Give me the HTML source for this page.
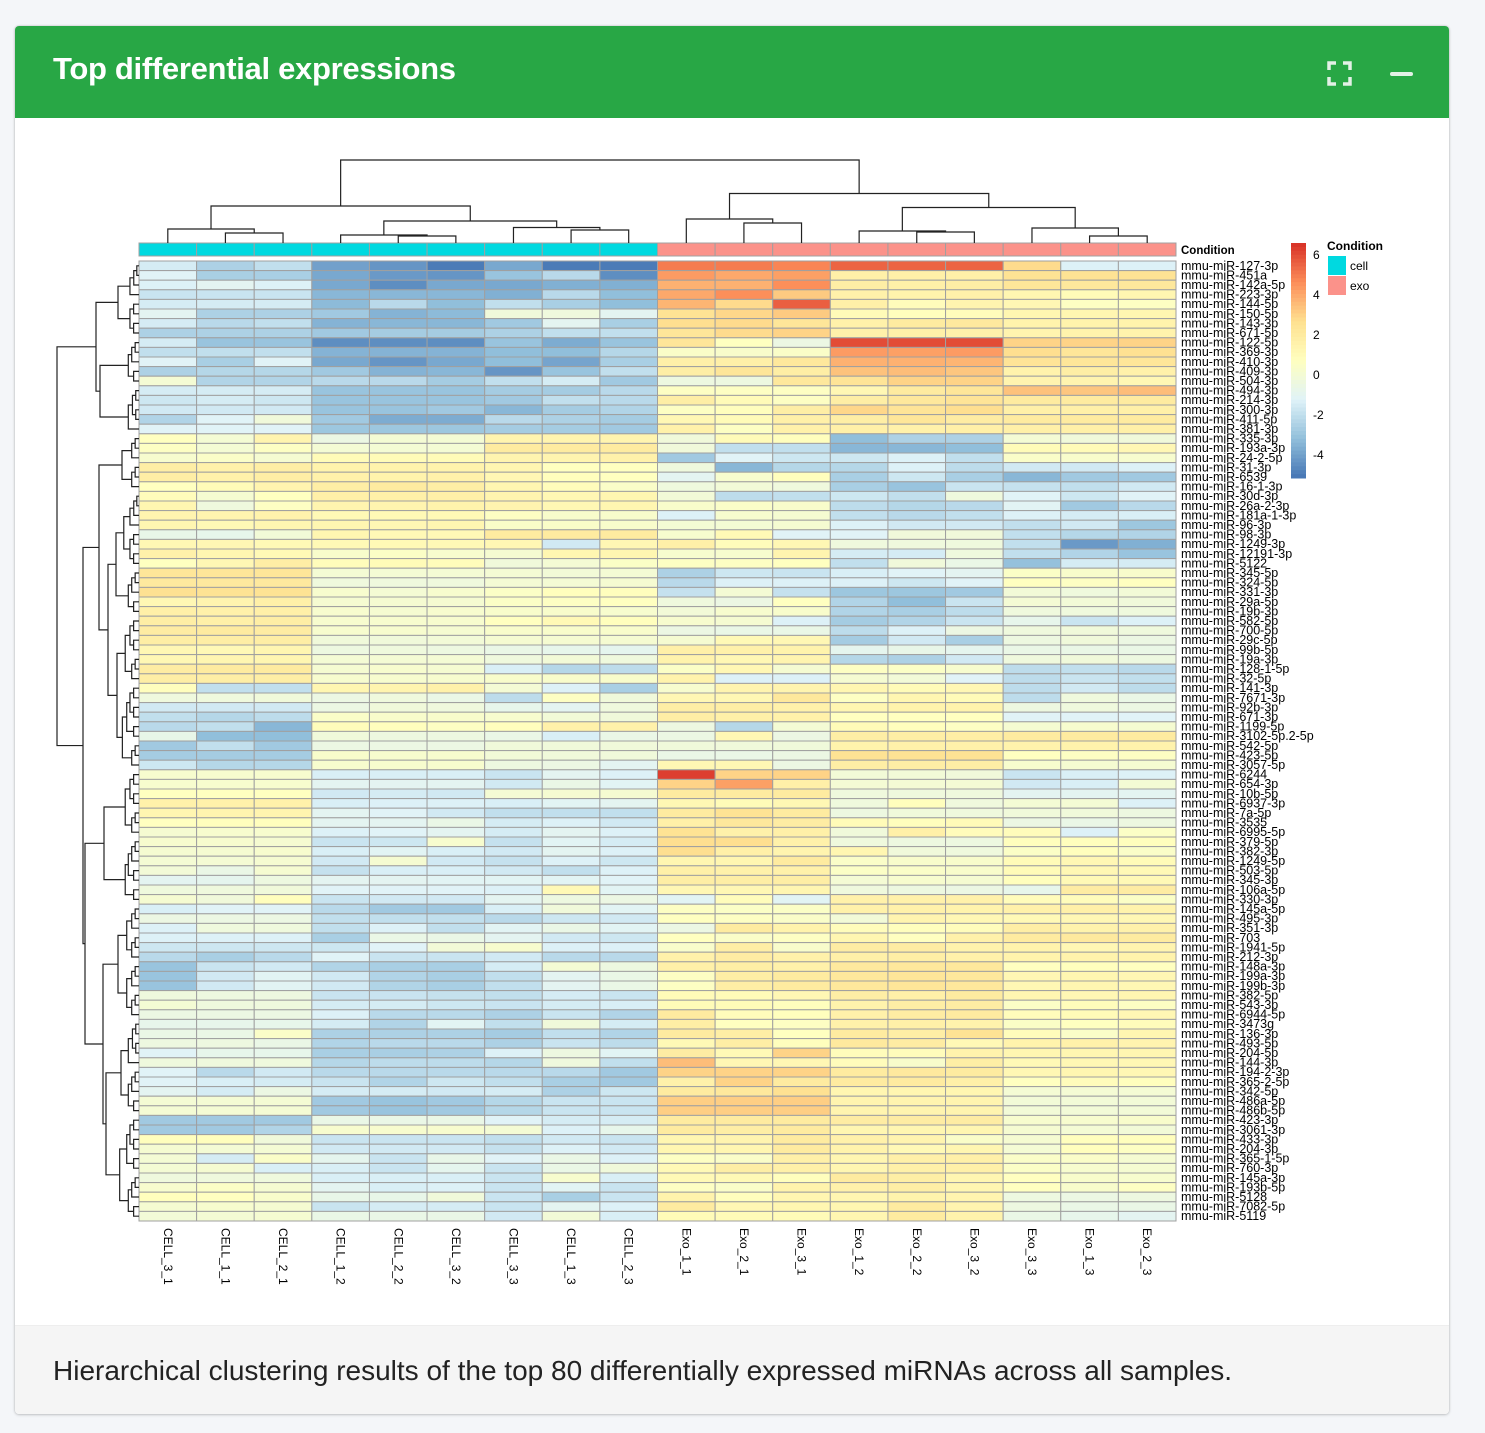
<!DOCTYPE html>
<html><head><meta charset="utf-8"><style>
html,body{margin:0;padding:0;background:#f4f6f9;width:1485px;height:1433px;overflow:hidden;font-family:"Liberation Sans",sans-serif;}
#card{position:absolute;left:15px;top:26px;width:1434px;height:1388px;background:#fff;border-radius:4px;box-shadow:0 0 2px rgba(0,0,0,.2),0 1px 3px rgba(0,0,0,.15);overflow:hidden;}
#hdr{position:absolute;left:0;top:0;width:1434px;height:92px;background:#28a745;}
#title{position:absolute;left:38px;top:25px;color:#fff;font-weight:bold;font-size:31px;letter-spacing:-0.3px;}
#foot{position:absolute;left:0;top:1299px;width:1434px;height:89px;background:#f5f5f5;border-top:1px solid #eee;}
#caption{position:absolute;left:38px;top:29px;font-size:28px;color:#222;}
svg{position:absolute;left:0;top:0;}
</style></head><body>
<div id="card">
<div id="hdr">
<div id="title">Top differential expressions</div>
</div>
<div id="foot">
<div id="caption">Hierarchical clustering results of the top 80 differentially expressed miRNAs across all samples.</div>
</div>
</div>
<svg id="chart" width="1485" height="1433" xmlns="http://www.w3.org/2000/svg">
<g fill="none" stroke="#e3f1e6" stroke-width="3.5">
<path d="M1329 70 V63 H1336 M1343 63 H1350 V70 M1350 77 V84 H1343 M1336 84 H1329 V77"/>
</g>
<rect x="1390" y="72" width="23" height="4" rx="2" fill="#e3f1e6"/>
</svg>
<script>
const colLabels=["CELL_3_1","CELL_1_1","CELL_2_1","CELL_1_2","CELL_2_2","CELL_3_2","CELL_3_3","CELL_1_3","CELL_2_3","Exo_1_1","Exo_2_1","Exo_3_1","Exo_1_2","Exo_2_2","Exo_3_2","Exo_3_3","Exo_1_3","Exo_2_3"];
const conditions=["cell","cell","cell","cell","cell","cell","cell","cell","cell","exo","exo","exo","exo","exo","exo","exo","exo","exo"];
const rowLabels=["127-3p","451a","142a-5p","223-3p","144-5p","150-5p","143-3p","671-5p","122-5p","369-3p","410-3p","409-3p","504-3p","494-3p","214-3p","300-3p","411-5p","381-3p","335-3p","193a-3p","24-2-5p","31-3p","6539","16-1-3p","30d-3p","26a-2-3p","181a-1-3p","96-3p","98-3p","1249-3p","12191-3p","5122","345-5p","324-5p","331-3p","29a-5p","19b-3p","582-5p","700-5p","29c-5p","99b-5p","19a-3p","128-1-5p","32-5p","141-3p","7671-3p","92b-3p","671-3p","1199-5p","3102-5p.2-5p","542-5p","423-5p","3057-5p","6244","654-3p","10b-5p","6937-3p","7a-5p","3535","6995-5p","379-5p","382-3p","1249-5p","503-5p","345-3p","106a-5p","330-3p","145a-5p","495-3p","351-3p","703","1941-5p","212-3p","148a-3p","199a-3p","199b-3p","382-5p","543-3p","6944-5p","3473g","136-3p","493-5p","204-5p","144-3p","194-2-3p","365-2-5p","342-5p","486a-5p","486b-5p","423-3p","3061-3p","433-3p","204-3p","365-1-5p","760-3p","145a-3p","193b-5p","5128","7082-5p","5119"].map(s=>"mmu-miR-"+s);
const values=[
[-1.5,-2.5,-2,-4,-4.3,-5,-3.8,-5,-5,5,5,4.8,5.5,5.5,5.5,2.8,-1.3,-1.3],
[-1.2,-2.6,-2.6,-3.8,-4.2,-4.3,-3,-2.2,-4.5,4.3,4,4.2,1.7,1.7,1.7,2.5,2.5,2.5],
[-1.3,-1,-1.3,-3.8,-4.5,-3.8,-3.8,-3.6,-3.6,3.8,3.8,4.6,1.8,1.7,1.8,2.3,2.2,2.2],
[-1.8,-1.8,-1.8,-3.4,-3.4,-3.4,-3.6,-2.2,-3.2,4,4.6,3.2,1.6,1.5,1.6,1.3,1,1.3],
[-1.5,-1.5,-1.5,-3.3,-2.2,-3.2,-2,-2.6,-3.2,3.7,2.8,5.6,1.7,0.9,1.4,1.2,0.6,0.6],
[-1,-2.5,-2.5,-2.8,-3.5,-3.3,-0.2,-0.3,-1,2.5,2.9,3.2,1,0.8,0.9,1.3,1.3,1.3],
[-1.5,-2.2,-2,-3.5,-3.4,-3.4,-2.8,-1,-2.6,2.7,2.8,2.3,1.6,2,2.1,1.5,1.5,1.5],
[-2.5,-2.5,-2.5,-2.8,-2.7,-2.7,-2.5,-2,-2,2.3,2.8,3,1.6,1.7,1.6,1.4,1.5,1.5],
[-1.5,-3,-3,-4.5,-4.5,-4.5,-3,-3.7,-3,2.3,0.7,-0.5,6,6,6,3,3,3],
[-2,-2,-2,-3.5,-3.5,-3.5,-3.2,-3.2,-2.3,0.4,0.3,0.4,4.3,4.2,4.3,2.7,2.3,2.6],
[-1.2,-2.6,-1.2,-3.8,-4.3,-3.8,-3.2,-3.9,-2.6,1.7,1.7,2.2,3.8,3.8,3.7,2.4,2.3,2.3],
[-2.5,-2.3,-2.3,-2.8,-3.5,-3.4,-4.3,-3,-2,1.8,2.3,1.8,3.4,3.5,3.3,1.5,1.8,1.6],
[0,-2.4,-2.4,-2.2,-2.2,-2.7,-2,-1.5,-2.8,-0.4,-0.4,2.2,2.4,3,3,1.4,1.4,1.2],
[-1.5,-1.5,-1.5,-3,-3,-3,-2.7,-2.7,-2.2,0.6,0.6,0.6,1.2,2,2.3,3.4,3.3,3.5],
[-1.7,-1.5,-1.7,-3,-3,-3,-2.8,-2,-2.2,1.8,1,0.6,1.8,2.2,2.4,2,2,2],
[-1.6,-1.6,-1.6,-3,-3,-2.8,-3.4,-2.7,-2.4,0.6,0.8,1.8,2.9,2.4,2.7,1.7,1.7,1.7],
[-2.4,-1.2,-0.2,-2.8,-3.7,-3.7,-2.2,-2.5,-2.7,1.2,1,1.7,1.8,2.3,1.9,2,2,2],
[-1.2,-1.2,-1.2,-2.9,-2.9,-2.9,-2.7,-2.7,-2.8,1.6,0.6,1.6,1.7,1.6,1.7,1.7,1.7,1.7],
[0.7,0,1.4,-0.5,0,0,1.4,1.4,1.4,-0.2,1,0.8,-3.2,-2.5,-2.5,0,-0.2,-0.2],
[0.6,0,0.6,0,0,0,2,2,2,-0.2,-2,-2,-3.4,-3.4,-3.2,1,1,1.2],
[0.2,0.4,0.1,1,1,1,1.4,1.4,1.6,-2.8,-1.2,-1.7,-1.7,-1.3,-2,0.4,0.3,0.2],
[1.8,1.6,1.8,1.5,1.5,1.5,1.3,0.7,0.7,-0.3,-3.4,-2.3,-2.3,-1.3,-2.1,-1.6,-1.6,-1.3],
[1.8,1.6,1.8,1.6,1.5,1.6,1.2,0.8,0.7,-1,0.2,0.8,-2.6,-1.7,-2.6,-3.4,-2.8,-2.8],
[0.7,1,1.4,1.8,2,1.8,1.3,0.9,0.4,-0.3,-0.1,-0.3,-2.6,-3,-1.8,-1.9,-2,-1.6],
[0.9,0.1,0.7,1.7,1.7,1.7,1.4,1.2,1.3,-0.1,-2.1,-2,-1.7,-2,-0.3,-1.2,-1.7,-1.2],
[1.3,-0.3,0.6,1.4,1.4,1.5,1.4,1.2,1.3,0.3,0.4,0.3,-2.1,-2.3,-2.2,-1.1,-2.8,-2.2],
[1.4,1.4,1.5,1.1,1.1,1.1,0.6,0.3,0.3,-1.3,0.2,0.1,-2,-2.2,-2,-1.3,-1.5,-1.4],
[1.3,1.1,1.3,1.3,1.2,1.3,0.4,0.4,0.3,0,0,0.1,-1.3,-1.6,-1.6,-2,-1.6,-2.9],
[-0.7,-0.8,-0.1,1.3,1.1,1.1,2,2,2,0.2,1.1,-1.2,-1.2,-0.2,-0.2,-2,-2.3,-2.4],
[1.2,1.2,1.1,1.1,1.1,1.1,1.2,-1.6,1.2,1.7,0.9,1.2,-0.3,-0.3,-0.3,-2,-4.2,-3.6],
[1.6,1.3,1.1,0.3,0.5,0.2,0.1,1.3,1.3,0.2,0.2,1.4,-1.5,-1.5,-0.3,-2,-2.4,-3],
[0.7,1.2,1.8,0.9,1,0.9,-0.2,0,0.5,0.6,0.6,0.7,-2,-0.2,-0.6,-3.1,-1.5,-1.5],
[2.3,2.3,2.3,0,0,0,0,-0.1,0,-2.5,-1.7,-1.8,-1.4,-1.2,-1,0.5,0.3,0.3],
[2.1,2.1,2.1,-0.3,-0.3,-0.3,0,0,0.1,-2.2,-1.3,-1.3,-1.3,-1.7,-1.2,0.7,0.6,0.7],
[2.6,2.5,2.5,0.2,0,0.2,0.5,0.8,0.8,-1.9,0,-1.9,-2.9,-2.9,-2.8,-0.1,-0.3,-0.1],
[1.2,1.4,1.7,0.1,0.1,0.1,0.5,0.6,0.7,-0.3,-0.5,0.7,-2.4,-3.2,-1.8,0,-0.1,-0.2],
[1.7,1.6,1.7,0.2,0.1,0.2,0.3,0.3,0.2,-0.1,0.2,0.3,-2.4,-2.6,-2.1,-0.3,-0.3,-0.3],
[1.8,1.7,1.8,0.2,0.2,0.2,0.7,1.1,0.8,0.2,0.1,-1.3,-2.7,-2.4,-1.8,-0.8,-1.8,-1.3],
[1.9,2,1.9,0.2,0.2,0.1,0.3,0.3,0.3,-0.5,-0.6,-0.6,-2.1,-1.3,-0.5,-0.3,-0.2,-0.3],
[1.8,1.8,1.8,-0.2,-0.2,-0.1,0.1,0.1,0.1,0.1,1.1,1.2,-2.7,-1.6,-2.6,-0.4,-0.2,-0.5],
[1.2,1.1,1.3,-0.4,-0.3,-0.4,-0.6,-0.8,-0.9,1.7,1.6,1.5,-0.9,-0.7,-0.9,-0.6,-0.6,-0.6],
[1.2,1.3,1.3,0,0,0,-0.3,-0.1,-0.3,1.5,1.2,1.4,-2.3,-2.5,-1.6,-0.3,-0.2,-0.4],
[1.9,2,2,0.1,0.2,0.1,-1.4,-2.3,-2.1,0.5,1.2,0.1,0.6,0.5,0.2,-2.1,-2,-2.2],
[1.8,1.8,1.8,0.2,0.2,0.2,0.3,0.3,0.3,1.5,-1.3,-1.3,0.1,-0.1,-1.2,-2.1,-1.8,-2],
[0.8,-2,-2,1.3,1.4,1.6,0,-1.3,-2.6,0.2,1.4,1.4,1.3,1,1.2,-2.1,-1.6,-2.1],
[-0.3,-0.3,-0.2,-0.5,-0.3,-0.6,-2.1,0.6,-0.2,1.2,1.2,2.2,0.6,1.3,1,-2.1,-0.3,-0.6],
[-1.6,-1.6,-1.6,-0.5,-0.2,-0.3,-0.8,-1,-0.3,1.8,1.8,1.6,1.3,1.5,1.5,-0.4,-0.3,-0.5],
[-2,-2.3,-2.1,0.4,0.3,0.3,0.2,-0.1,-0.2,1.8,1.7,1.6,0.7,0.7,0.7,-1.2,-1.2,-1.2],
[-2.2,-2,-3.4,0.9,0.8,0.6,0.8,1.6,1.6,-0.4,-2.3,0,1,0.8,0.6,0.1,0.2,0.1],
[-0.7,-3.2,-3.2,-0.2,-0.4,-0.4,-0.6,-1.4,-0.6,-0.5,1.2,-0.5,1.8,1.8,1.8,2,2,2],
[-2.8,-2,-2.8,-0.5,-0.5,-0.5,-0.2,-0.2,-0.2,-0.2,-0.2,-0.2,1.5,1.6,1.6,1.5,1.5,1.5],
[-2.7,-2.7,-2.7,0.3,0.2,0.2,-0.1,-0.2,-0.2,-0.6,-0.6,-0.5,2.5,2.5,2.5,0.7,0.6,0.6],
[-1.7,-2.3,-2.3,0.2,0.2,0.2,-0.4,-0.5,-1,1.2,1.2,-0.5,1.8,1.8,1.8,0.2,0.1,0.1],
[0.2,0.2,0.2,-1.4,-1.4,-1.4,-1.8,-1,-1.3,6.3,3,3,-0.1,-0.1,-0.2,-1.8,-1.4,-1.3],
[0.2,0.2,0.2,-1,-1,-1,-1.6,-0.6,-1.1,3,4.2,1.7,0,0,0,-1.6,-1.4,0],
[0.7,0.7,0.7,-1.6,-1.5,-1.6,0,0.1,0.1,2,2,2,-0.3,-0.3,-0.3,-1,-1,-1],
[1.6,1.6,1.6,-1.4,-1.3,-1.3,-1.4,-1.1,-1,1.2,1,1.2,-0.3,0.8,-0.3,0,0,-1.3],
[1.3,1.4,1.4,-1,-1.2,-1.6,-2,-2,-2,2,2.5,2,-0.4,-0.2,-0.3,-0.2,-0.2,-0.4],
[0.7,0.8,0.8,-1,-1,-0.6,-1.5,-1.3,-1.6,1.7,2.2,1.9,1,0.8,1,-0.5,-0.6,-0.4],
[0.1,0.2,0.2,-1.3,-1.2,-1,-1.5,-1,-1.3,2.5,1.6,1.7,-0.2,1.7,0.9,0.9,-1.3,0.5],
[0.2,0.2,0.1,-1.8,-1.7,0.2,-1.9,-1.1,-1.5,2.7,2.7,1.6,-0.3,-0.4,-0.4,0.8,0.8,0.8],
[0.1,0.1,0.2,-1.4,-1.1,-1.4,-1.6,-1,-1.3,2.7,1.7,1.4,1.3,-0.2,-0.3,0.5,0.8,0.4],
[0,0,0.1,-1.6,0.1,-1.6,-1.9,-1.3,-1.7,1.3,1.3,2,0.4,0.3,0.3,1,1.2,1],
[-0.1,-0.6,0.1,-1.9,-1.4,-1.4,-1.6,-2,-1.3,1.7,1.6,1.6,0.5,0.4,0.3,1,1.2,1.1],
[-1,-0.9,-0.4,-1,-1,-1.1,-1.1,-1.1,-1.2,1.8,1.8,1.8,0,0.2,0.1,0.8,1.1,1.1],
[-0.3,-0.3,-0.2,-1.2,-1.2,-1.2,-1.3,1.1,-1.1,1.2,1.2,1.3,-0.3,-0.4,-0.5,-0.8,1.9,1.9],
[0.1,-0.2,0.8,-1.8,-1.6,-1.6,-1,-0.4,-0.5,-1.1,0.9,-1.1,1.6,1.6,1.6,0.9,0.9,0.5],
[-1.4,-1.2,-1.2,-2.2,-2.8,-2.8,-1.4,-0.2,-1.1,0.6,0.5,0.5,1.6,1.6,1.5,1.6,1.7,1.5],
[-0.5,-0.5,-0.5,-2,-2,-2,-2.2,-1.7,-1.6,0.7,0.6,0.4,-0.1,1.4,1.2,1.1,1.2,1.2],
[-1.3,-0.3,-0.3,-2,-1.3,-2,-1.1,-0.6,-1.1,-0.5,2,1.5,0.9,0.8,0.9,1.8,1.5,1.6],
[-1.3,-1.3,-1.3,-2.6,-0.6,-0.6,-1,-1.6,-1.7,0.7,0.4,0.6,1.3,0.7,1.6,2,2.1,2],
[-1.7,-1.7,-1.7,-1.7,-1.2,-0.1,0.2,-1.3,-1.3,0.3,1.8,0.3,1.9,1.9,1.5,1.5,1.2,1.4],
[-2.2,-2.6,-2.2,-1.2,-1.8,-1.8,-1.6,-2.2,-2.2,1.6,1.9,1.6,1.7,1.8,1.6,1.5,1.5,1.5],
[-3,-1.8,-1.6,-2.4,-2.6,-2.6,-1.5,0,-0.4,1.7,1.8,1.6,2.1,2.2,2.2,0.7,0.8,0.7],
[-3,-1.6,-1.1,-1.6,-2.4,-2.6,-2,-1,-0.6,0.6,1.8,2,2.2,2.3,2.2,1.2,1.3,1.2],
[-3,-1.6,-1.1,-1.6,-2.4,-2.6,-2,-1,-0.6,0.6,1.8,2,2.2,2.3,2.2,1.2,1.3,1.2],
[-0.3,-0.4,-0.4,-1.8,-1.8,-1.9,-2,-1.5,-1.8,1,1,1.2,1.8,1.7,2,1.3,1.2,1.3],
[0,-0.3,-0.3,-1.5,-1.5,-1.7,-1.8,-1.5,-1.4,1,1,0.8,1.5,1.8,1.9,0.5,0.9,0.6],
[-0.5,-0.5,-0.5,-1.3,-2.2,-2.2,-2.5,-1.8,-2.4,2,0.9,0.8,1.6,1.9,2,0.9,1,1.2],
[-0.8,-0.8,-0.8,-1.5,-2.4,-1.1,-2,-0.2,-1.5,1.8,0.7,0.6,1.6,1.7,1.5,0.5,0.7,0.9],
[-0.6,-0.6,0.4,-2.5,-2.5,-2.5,-2.7,-2,-2.4,2,1.8,0.7,2,1.8,2.5,0.9,0.4,1.3],
[-0.4,-0.4,-0.6,-2.4,-2.2,-2.2,-2.5,-1.8,-2.1,1.1,1.8,0.8,2.1,1.9,1.1,1.5,1.6,1.4],
[-1.2,-0.8,-0.8,-2.6,-2.6,-2.5,-1.3,-0.4,-1.1,1.9,1.1,3,0.9,0.9,1.5,1.3,1.3,1.3],
[-0.3,-0.3,-0.3,-2.3,-2.1,-2.1,-2.3,-0.3,-2,3.5,1.2,1.2,0.9,0.3,1.8,1.1,1.2,1.2],
[-1.2,-2.2,-1.6,-2.2,-2.2,-2.2,-2.2,-2.2,-2.8,3,3,3,2,2.1,2,1.2,1.3,1.2],
[-1.2,-1.4,-1.5,-1.8,-2.4,-1.7,-2,-2.6,-2.8,1.6,3,2,2,2,1.7,0.7,0.9,0.8],
[-1,-1.5,-0.5,-1.5,-1.5,-1.6,-1.5,-2.5,-1.7,2,2.2,2.6,1.3,1.3,1.3,0,0,0],
[0,0,0,-2.8,-3,-2.8,-2.3,-1.8,-1.8,3.1,3.1,3.1,1.4,1.4,1.4,-0.1,-0.1,-0.1],
[0,0,0,-2.8,-3,-2.8,-2.3,-1.8,-1.8,3.1,3.1,3.1,1.4,1.4,1.4,-0.1,-0.1,-0.1],
[-2.8,-2.8,-2.8,-0.6,-0.6,-0.6,-1.2,-1.5,-1.5,2,2,2,1.9,1.9,1.9,0.2,0.2,0.3],
[-2.8,-2.8,-2.4,0.2,0.2,0.2,0,-1.3,-0.8,2,1.8,2,1.3,1.3,1.3,0.1,0,-0.1],
[0.8,0.8,-0.2,-1.8,-1.8,-1.8,-2,-1.6,-1.8,1.3,1.4,2,1.6,1.4,0.4,0.1,0.8,0.8],
[0.1,0,0,-1.6,-1.6,-1.6,-1.9,-1.3,-1.6,1.3,1.3,2,1.5,1.1,1.3,0,0.8,0.6],
[0,-1.5,0.4,-0.9,-1.8,-0.7,-1.2,-0.6,-1.3,0.6,0.4,1.7,1.3,1.7,1.7,0.4,0.4,0.1],
[0,0.1,-1.4,-1.4,-1.8,-0.9,-1.8,-0.6,-0.2,1.1,1.8,1.7,1.3,1.7,1.7,0.5,0.2,0.1],
[-0.3,-0.3,-0.3,-1.4,-1.4,-1.4,-1.8,0.2,-1.4,1.1,1.1,0.8,2,1.8,1.3,0.7,0.3,0.2],
[0.2,0.5,0.1,-1,-1.4,-1.3,-1.8,-1.1,-1.8,0.6,0.4,1.5,1.6,1.8,1.3,0.7,0.3,0.6],
[0.8,0.7,0.3,-0.7,-0.7,-0.2,-1.8,-2.6,-1.8,1.5,0.8,1.3,1.3,1.5,1.4,-0.4,-0.5,-0.4],
[0.1,0.2,0.1,-1.8,-1.5,-1.5,-1.8,-1,-1.3,2,1.2,1.3,1.3,2,1.4,-0.4,-0.6,-0.6],
[-0.1,0,0.1,-0.6,-0.6,-0.6,-1.6,-0.1,-1.4,1,1,1,1.3,2,1.5,-0.6,-0.8,-1]
];
const legendTicks=[6,4,2,0,-2,-4];
</script>
<script>
const NS="http://www.w3.org/2000/svg";
const svg=document.getElementById('chart');
function mk(tag,attrs,parent){const e=document.createElementNS(NS,tag);for(const k in attrs)e.setAttribute(k,attrs[k]);(parent||svg).appendChild(e);return e;}
const X0=139,X1=1176,Y0=261,Y1=1221;
const cw=(X1-X0)/colLabels.length, rh=(Y1-Y0)/rowLabels.length;
const xc=i=>X0+cw*i, yr=i=>Y0+rh*i;
const pal=[[69,117,180],[145,191,219],[224,243,248],[255,255,191],[254,224,144],[252,141,89],[215,48,39]];
const VMIN=-5.15,VMAX=6.6;
function color(v){let t=(v-VMIN)/(VMAX-VMIN);t=Math.max(0,Math.min(1,t))*(pal.length-1);const i=Math.min(pal.length-2,Math.floor(t)),f=t-i;const c=pal[i].map((a,k)=>Math.round(a+(pal[i+1][k]-a)*f));return `rgb(${c[0]},${c[1]},${c[2]})`;}
const gh=mk('g',{});


values.forEach((row,r)=>row.forEach((v,c)=>{
  const el=mk('rect',{x:xc(c),y:yr(r),width:cw,height:rh,fill:color(v),stroke:'#a0a0a0','stroke-width':1},gh);
  
  
}));
const condColor={cell:'#00d9e0',exo:'#fb928a'};
conditions.forEach((c,i)=>{
  const el=mk('rect',{x:xc(i),y:243,width:cw,height:13,fill:condColor[c],stroke:'#a0a0a0','stroke-width':1});
  
  
});
const at=mk('text',{x:1181,y:254,'font-size':11.5,'font-weight':'bold','font-family':'Liberation Sans, sans-serif'});
at.textContent='Condition';


rowLabels.forEach((l,i)=>{
  const t=mk('text',{x:1181,y:yr(i)+rh/2+4,'font-size':12.5,'font-family':'Liberation Sans, sans-serif'});
  t.textContent=l;
  
  
});
colLabels.forEach((l,i)=>{
  const cx=xc(i)+cw/2-4,y=1228;
  const t=mk('text',{x:cx,y:y,'font-size':12,'font-family':'Liberation Sans, sans-serif',transform:`rotate(90 ${cx} ${y})`});
  t.textContent=l;
  
  
});
const LT=243,LB=478,LX=1291;
const steps=60;
for(let k=0;k<steps;k++){
  const v=VMAX-(VMAX-VMIN)*(k+0.5)/steps;
  const el=mk('rect',{x:LX,y:LT+(LB-LT)*k/steps,width:15,height:(LB-LT)/steps+0.5,fill:color(v)});
  
  
}
const ly=v=>LT+(VMAX-v)/(VMAX-VMIN)*(LB-LT);
legendTicks.forEach(v=>{
  const t=mk('text',{x:1313,y:ly(v)+4,'font-size':12,'font-family':'Liberation Sans, sans-serif'});
  t.textContent=String(v);
  
  
});
const lt=mk('text',{x:1327,y:250,'font-size':12,'font-weight':'bold','font-family':'Liberation Sans, sans-serif'});
lt.textContent='Condition';


['cell','exo'].forEach((c,i)=>{
  const r=mk('rect',{x:1328,y:256+i*20,width:18,height:19,fill:condColor[c]});
  
  
  const t=mk('text',{x:1350,y:270+i*20,'font-size':12,'font-family':'Liberation Sans, sans-serif'});
  t.textContent=c;
  
  
});
const colTree={y:160,c:[{y:206,c:[{y:229,c:[0,{y:233,c:[1,2]}]},{y:221,c:[{y:235,c:[3,{y:236,c:[4,5]}]},{y:227.5,c:[6,{y:230,c:[7,8]}]}]}]},{y:193.5,c:[{y:219,c:[9,{y:223,c:[10,11]}]},{y:207.5,c:[{y:231,c:[12,{y:232,c:[13,14]}]},{y:228,c:[15,{y:236,c:[16,17]}]}]}]}]};
const gd=mk('g',{stroke:'#222','stroke-width':1.2,fill:'none'});


function drawCol(n){
  if(typeof n==='number')return {x:xc(n)+cw/2,y:243};
  const a=drawCol(n.c[0]),b=drawCol(n.c[1]);
  mk('path',{d:`M${a.x} ${a.y}V${n.y}H${b.x}V${b.y}`},gd);
  return {x:(a.x+b.x)/2,y:n.y};
}
drawCol(colTree);
const gr=mk('g',{stroke:'#222','stroke-width':1.2,fill:'none'});


function auto(a,b,px){
  if(a===b)return a;
  const n=b-a+1;let x=139-3.2*Math.pow(n,0.75);if(x<=px+2)x=px+2+(139-px)*0.2;
  const m=a+Math.floor((n-1)/2)+((a*7+b)%3===0&&n>3?1:0);
  return {x:x,c:[auto(a,Math.min(m,b-1),x),auto(Math.min(m,b-1)+1,b,x)]};
}
const rowTree={x:57,c:[
  {x:96,c:[{x:118,c:[auto(0,3,118),auto(4,7,118)]},{x:100,c:[auto(8,12,100),auto(13,17,100)]}]},
  {x:83,c:[
    {x:99,c:[{x:122,c:[auto(18,20,122),auto(21,23,122)]},{x:108,c:[{x:116,c:[auto(24,31,116),auto(32,36,116)]},{x:117,c:[auto(37,43,117),auto(44,52,117)]}]}]},
    {x:85,c:[{x:104,c:[auto(53,59,104),auto(60,66,104)]},{x:103,c:[{x:118,c:[auto(67,72,118),auto(73,78,118)]},{x:106,c:[auto(79,88,106),auto(89,99,106)]}]}]}
  ]}
]};
function drawRow(n){
  if(typeof n==='number')return {x:X0,y:yr(n)+rh/2};
  const a=drawRow(n.c[0]),b=drawRow(n.c[1]);
  mk('path',{d:`M${a.x} ${a.y}H${n.x}V${b.y}H${b.x}`},gr);
  return {x:n.x,y:(a.y+b.y)/2};
}
drawRow(rowTree);
</script>
</body></html>
